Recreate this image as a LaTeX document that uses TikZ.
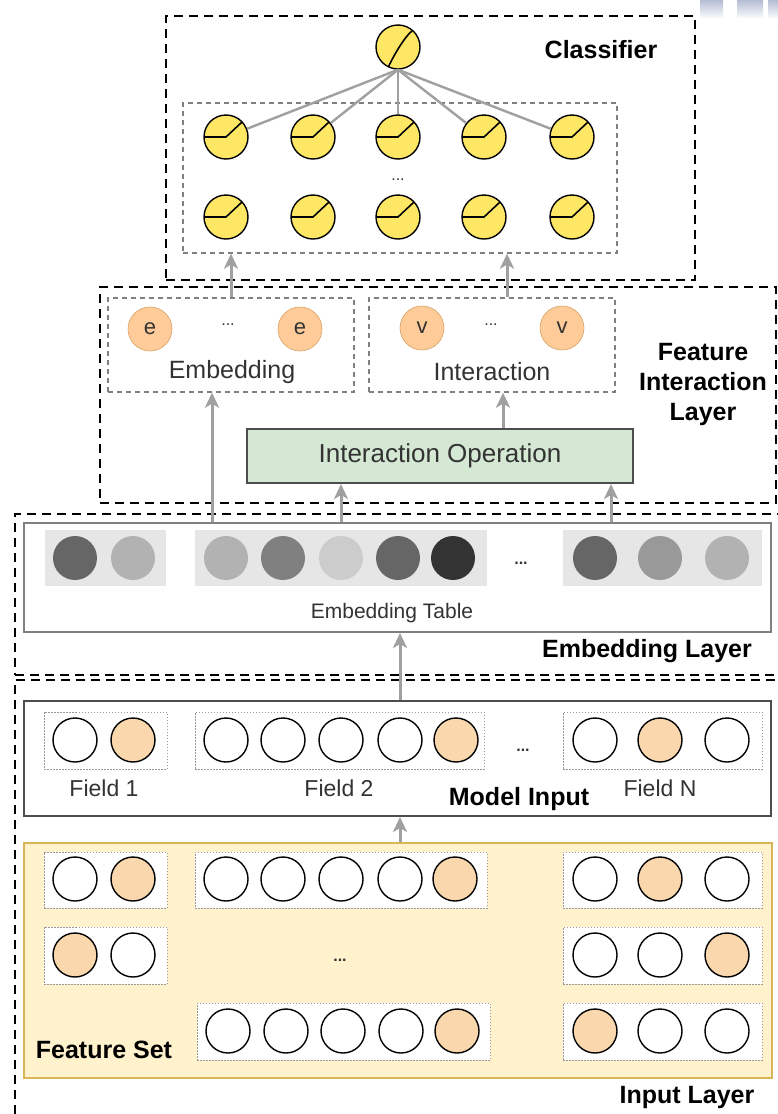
\documentclass[tikz,border=0pt]{standalone}
\usepackage{fontspec}
\setmainfont{Liberation Sans}
\usetikzlibrary{arrows.meta,fit}

\definecolor{neuron}{HTML}{FFE766}
\definecolor{peach}{HTML}{FFCC99}
\definecolor{peachline}{HTML}{D6A266}
\definecolor{hot}{HTML}{FAD7AC}
\definecolor{setfill}{HTML}{FFF2CC}
\definecolor{setline}{HTML}{D6B656}
\definecolor{opfill}{HTML}{D5E8D4}
\definecolor{opline}{HTML}{4D4D4D}
\definecolor{arrowgray}{HTML}{A0A0A0}
\definecolor{txt}{HTML}{333333}
\definecolor{panel}{HTML}{E6E6E6}
\definecolor{mark}{HTML}{B4BDD4}

\tikzset{
  layerbox/.style={draw=black, line width=2.4pt, dash pattern=on 9pt off 6pt, inner sep=0pt},
  groupbox/.style={draw=gray, line width=1.3pt, dash pattern=on 5pt off 4pt, inner sep=0pt},
  fieldbox/.style={draw=gray!80, line width=0.9pt, dash pattern=on 1.5pt off 1.5pt, fill=white, inner sep=0pt},
  solidbox/.style={draw=#1, line width=2pt, inner sep=0pt},
  neuronbase/.style={circle, minimum size=44pt, inner sep=0pt, fill=neuron, draw=black, line width=1.4pt},
  relu/.style={neuronbase, path picture={\draw[line width=1.6pt]
      ([xshift=-23pt]path picture bounding box.center) -- ++(23pt,0pt) -- ++(16pt,15pt);}},
  linear/.style={neuronbase, path picture={\draw[line width=1.6pt]
      ([xshift=-10pt,yshift=-21pt]path picture bounding box.center)
      .. controls +(5pt,12pt) and +(-6pt,-4pt) ..
      ([xshift=14pt,yshift=16pt]path picture bounding box.center);}},
  ncell/.style={circle, minimum size=44pt, inner sep=0pt, draw=black, line width=1.4pt, fill=#1},
  nswatch/.style={circle, minimum size=44pt, inner sep=0pt, fill=#1},
  nunit/.style={circle, minimum size=44pt, inner sep=0pt, fill=peach, draw=peachline,
      line width=0.6pt, text=txt, font=\fontsize{22}{26}\selectfont},
  flow/.style={draw=arrowgray, line width=3pt, -{Stealth[length=15pt, width=14pt, inset=4pt]}},
  link/.style={draw=arrowgray, line width=2.4pt},
  heading/.style={font=\bfseries\fontsize{25}{30}\selectfont, text=black, inner sep=0pt},
  plain/.style={font=\fontsize{25}{30}\selectfont, text=txt, inner sep=0pt},
  dots/.style={font=\fontsize{16}{18}\selectfont, text=txt, inner sep=0pt},
}

\begin{document}
\begin{tikzpicture}[x=1pt,y=-1pt]
\useasboundingbox (0,0) rectangle (778,1114);
\clip (0,0) rectangle (778,1114);
\fill[white] (0,0) rectangle (778,1114);

% faded bars in the top right corner
\shade[top color=mark, bottom color=white] (700,0) rectangle (723,19);
\shade[top color=mark, bottom color=white] (737,0) rectangle (763,19);
\shade[top color=mark, bottom color=white] (768,0) rectangle (780,19);

% ---------------- Classifier ----------------
\node[layerbox, fit={(166,16) (695,280)}] (cls) {};
\node[heading] at (601,50) {Classifier};
\node[groupbox, fit={(183,103) (617,253)}] (hid) {};
\node[linear] (out) at (398,47) {};
\foreach \x [count=\k] in {226,313,398,484,572} {
  \node[relu] (n1\k) at (\x,137) {};
  \node[relu] (n2\k) at (\x,217) {};
}
\node[dots] at (398,180) {...};
\foreach \k in {1,...,5} \draw[link] (out.south) -- (n1\k);

% ---------------- Feature Interaction Layer ----------------
\node[layerbox, fit={(100,287) (776,503)}] (fil) {};
\node[heading, align=center] at (703,384) {Feature\\Interaction\\Layer};

\node[groupbox, fit={(108,298) (354,392)}] (embbox) {};
\node[nunit] (e1) at (150,329) {e};
\node[nunit] (e2) at (300,329) {e};
\node[dots] at (228,325) {...};
\node[plain] at (232,372) {Embedding};

\node[groupbox, fit={(369,298) (615,392)}] (intbox) {};
\node[nunit] (v1) at (422,328) {v};
\node[nunit] (v2) at (562,328) {v};
\node[dots] at (491,325) {...};
\node[plain] at (492,372) {Interaction};

\node[draw=opline, fill=opfill, line width=2pt, inner sep=0pt, fit={(247,429) (633,483)}] (io) {};
\node[plain, font=\fontsize{26}{30}\selectfont] at (440,456) {Interaction Operation};

% ---------------- Embedding Layer ----------------
\node[layerbox, fit={(15,514) (800,675)}] (emblayer) {};
\node[heading] at (647,651) {Embedding Layer};
\node[solidbox=gray, fit={(24,523) (771,632)}] (etab) {};
\fill[panel] (45,530) rectangle (166,586);
\fill[panel] (195,530) rectangle (487,586);
\fill[panel] (563,530) rectangle (762,586);
\foreach \x/\g [count=\k] in {75/60,133/30,226/30,283/50,341/20,398/60,453/80,595/60,660/40,727/30}
  \node[nswatch=black!\g!white] (s\k) at (\x,558) {};
\node[dots, font=\bfseries\fontsize{16}{18}\selectfont] at (521,563) {...};
\node[plain, font=\fontsize{21}{25}\selectfont] at (392,613) {Embedding Table};

% ---------------- Input Layer ----------------
\node[layerbox, fit={(15,680) (800,1130)}] (inlayer) {};
\node[heading] at (687,1097) {Input Layer};

% model input with its fields
\node[solidbox=opline, fit={(24,701) (771,816)}] (mi) {};
\node[fieldbox, fit={(44,712) (167,769)}] (fd1) {};
\node[fieldbox, fit={(195,712) (484,769)}] (fd2) {};
\node[fieldbox, fit={(563,712) (762,769)}] (fdn) {};
\foreach \x/\c [count=\k] in {75/white,133/hot,226/white,283/white,341/white,400/white,456/hot,595/white,660/hot,727/white}
  \node[ncell=\c] (m\k) at (\x,740) {};
\node[dots, font=\bfseries\fontsize{16}{18}\selectfont] at (523,750) {...};
\node[plain, font=\fontsize{23}{27}\selectfont] at (104,788) {Field 1};
\node[plain, font=\fontsize{23}{27}\selectfont] at (339,788) {Field 2};
\node[plain, font=\fontsize{23}{27}\selectfont] at (660,788) {Field N};
\node[heading] at (519,799) {Model Input};

% feature set
\node[draw=setline, fill=setfill, line width=2pt, inner sep=0pt, fit={(24,843) (772,1078)}] (fs) {};
\node[fieldbox, fit={(44,852) (167,908)}] (a1) {};
\node[fieldbox, fit={(195,852) (487,908)}] (b1) {};
\node[fieldbox, fit={(563,852) (762,908)}] (c1) {};
\node[fieldbox, fit={(44,927) (167,984)}] (a2) {};
\node[fieldbox, fit={(563,927) (762,984)}] (c2) {};
\node[fieldbox, fit={(197,1003) (490,1060)}] (b3) {};
\node[fieldbox, fit={(563,1003) (762,1060)}] (c3) {};
\foreach \x/\c [count=\k] in {75/white,133/hot,226/white,283/white,341/white,400/white,455/hot,595/white,660/hot,727/white}
  \node[ncell=\c] (p\k) at (\x,879) {};
\foreach \x/\c [count=\k] in {75/hot,133/white,595/white,660/white,727/hot}
  \node[ncell=\c] (q\k) at (\x,955) {};
\foreach \x/\c [count=\k] in {228/white,286/white,343/white,401/white,457/hot,595/hot,660/white,727/white}
  \node[ncell=\c] (r\k) at (\x,1031) {};
\node[dots, font=\bfseries\fontsize{16}{18}\selectfont] at (340,960) {...};
\node[heading] at (104,1050) {Feature Set};

% ---------------- connectors ----------------
\coordinate (x212) at (212,0);
\coordinate (x231) at (231,0);
\coordinate (x341) at (341,0);
\coordinate (x400) at (400,0);
\coordinate (x503) at (503,0);
\coordinate (x507) at (507,0);
\coordinate (x611) at (611,0);
\draw[flow] (fs.north -| x400) -- (mi.south -| x400);
\draw[flow] (mi.north -| x400) -- (etab.south -| x400);
\draw[flow] (etab.north -| x212) -- (embbox.south -| x212);
\draw[flow] (etab.north -| x341) -- (io.south -| x341);
\draw[flow] (etab.north -| x611) -- (io.south -| x611);
\draw[flow] (io.north -| x503) -- (intbox.south -| x503);
\draw[flow] (embbox.north -| x231) -- (hid.south -| x231);
\draw[flow] (intbox.north -| x507) -- (hid.south -| x507);
\end{tikzpicture}
\end{document}
